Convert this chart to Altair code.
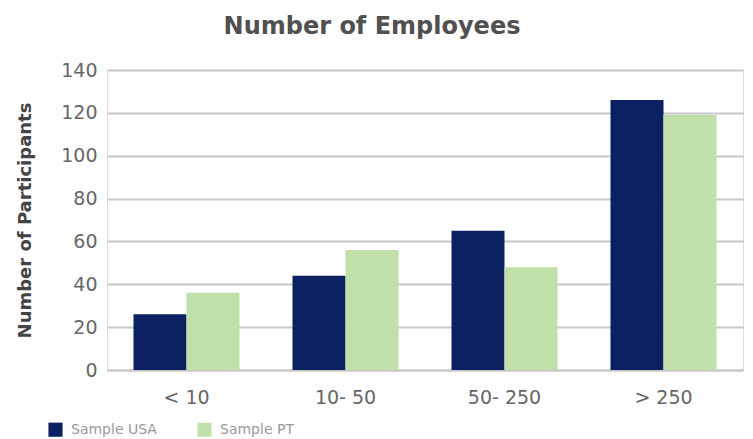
import altair as alt
import pandas as pd

categories = ["< 10", "10- 50", "50- 250", "> 250"]
usa = [26, 44, 65, 126]
pt = [36, 56, 48, 119]
series = ["Sample USA", "Sample PT"]

rows = []
for c, u, p in zip(categories, usa, pt):
    rows.append({"cat": c, "series": series[0], "value": u})
    rows.append({"cat": c, "series": series[1], "value": p})
df = pd.DataFrame(rows)

chart = alt.Chart(df).mark_bar().encode(
    x=alt.X("cat:N", sort=categories, title=None,
            scale=alt.Scale(paddingInner=1/3, paddingOuter=1/6),
            axis=alt.Axis(labelAngle=0, labelFontSize=19, labelColor="#666666",
                          labelFont="DejaVu Sans", labelPadding=18, ticks=False,
                          domainColor="#c8c8c8", domainWidth=2)),
    xOffset=alt.XOffset("series:N", sort=series),
    y=alt.Y("value:Q", title="Number of Participants",
            scale=alt.Scale(domain=[0, 140]),
            axis=alt.Axis(values=[0, 20, 40, 60, 80, 100, 120, 140],
                          labelFontSize=19, labelColor="#666666", labelFont="DejaVu Sans",
                          labelPadding=10, ticks=False, domain=False,
                          gridColor="#c8c8c8", gridWidth=2,
                          titleFontSize=18, titleFont="DejaVu Sans", titleFontWeight="bold",
                          titleColor="#444444", titlePadding=26)),
    color=alt.Color("series:N", sort=series,
                    scale=alt.Scale(domain=series, range=["#0b2060", "#c1dfa9"]),
                    legend=alt.Legend(title=None, orient="none", legendX=-59, legendY=352,
                                      direction="horizontal", symbolType="square",
                                      symbolSize=200, symbolStrokeWidth=0,
                                      labelFontSize=14, labelColor="#999999",
                                      labelFont="DejaVu Sans", labelOffset=8,
                                      columnPadding=40)),
).properties(
    width=636, height=300,
    title=alt.TitleParams("Number of Employees", fontSize=24, font="DejaVu Sans",
                          fontWeight="bold", color="#505050", anchor="middle", dx=-53,
                          offset=22),
    autosize=alt.AutoSizeParams(type="none"),
    padding={"left": 107, "top": 70, "right": 10, "bottom": 69},
).configure_view(stroke="#c8c8c8", strokeWidth=2).configure(background="white")

chart.save("out.html", embed_options={"renderer": "svg", "actions": False})
